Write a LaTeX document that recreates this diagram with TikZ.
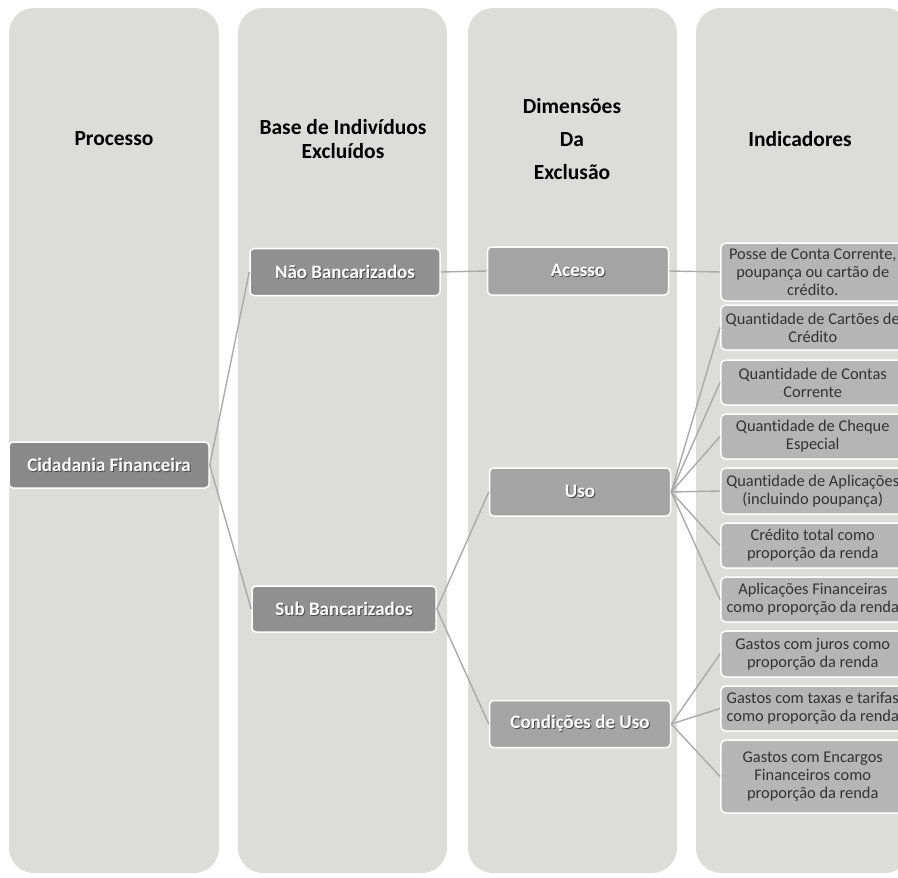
\documentclass[tikz,border=0pt]{standalone}
\usepackage{fontspec}
\setmainfont[Ligatures=NoCommon]{Carlito}
\definecolor{panelc}{HTML}{DCDDDB}
\definecolor{lvla}{HTML}{888988}
\definecolor{lvlb}{HTML}{8F908F}
\definecolor{lvlc}{HTML}{A3A4A3}
\definecolor{indc}{HTML}{B4B5B4}
\definecolor{indtext}{HTML}{333333}
\definecolor{linec}{HTML}{A9AAA9}
\definecolor{shadowc}{HTML}{4A4A4A}
\newcommand{\shd}[1]{\makebox[0pt][l]{\kern0.9pt\raisebox{-0.9pt}{\textcolor{shadowc}{#1}}}#1}
\begin{document}
\begin{tikzpicture}[x=1pt,y=-1pt,
 panel/.style={fill=panelc, draw=none, rounded corners=25pt},
 dnode/.style={draw=white, line width=1.5pt, rounded corners=4pt, text=white,
   font=\fontsize{19}{22}\selectfont\bfseries, inner sep=0pt},
 ind/.style={draw=white, line width=1.5pt, rounded corners=5pt, fill=indc,
   text=indtext, font=\fontsize{16.4}{18}\selectfont, align=center,
   minimum width=184pt, inner sep=0pt, anchor=west},
 conn/.style={draw=linec, line width=1.4pt},
 title/.style={font=\fontsize{21.5}{24}\selectfont\bfseries, align=center, text=black}
]
\useasboundingbox (0,0) rectangle (898,878);
\fill[white] (0,0) rectangle (898,878);
% panels
\fill[panel] (9,8) rectangle (219,873);
\fill[panel] (238,8) rectangle (447,873);
\fill[panel] (468,8) rectangle (677,873);
\fill[panel] (696,8) rectangle (910,873);
% titles
\node[title] (t1) at (114,139) {Processo};
\node[title] (t2) at (343,139) {Base de Indivíduos\\Excluídos};
\node[title] (t3) at (572,139) {Dimensões\\[9pt]Da\\[9pt]Exclusão};
\node[title] (t4) at (800,139) {Indicadores};
% main nodes
\node[dnode, fill=lvla, minimum width=200pt, minimum height=46pt] (cf) at (109,465) {\shd{Cidadania Financeira}};
\node[dnode, fill=lvlb, minimum width=190pt, minimum height=47pt] (nb) at (345,272) {\shd{Não Bancarizados}};
\node[dnode, fill=lvlb, minimum width=184pt, minimum height=46pt] (sb) at (344,609) {\shd{Sub Bancarizados}};
\node[dnode, fill=lvlc, minimum width=181pt, minimum height=48pt] (ac) at (578,271) {\shd{Acesso}};
\node[dnode, fill=lvlc, minimum width=181pt, minimum height=48pt] (us) at (580,492) {\shd{Uso}};
\node[dnode, fill=lvlc, minimum width=181pt, minimum height=47pt] (cu) at (580,724) {\shd{Condições de Uso}};
% indicators
\node[ind, minimum height=58pt] (i1) at (720,272) {Posse de Conta Corrente,\\poupança ou cartão de\\crédito.};
\node[ind, minimum height=45pt] (i2) at (720,327.5) {Quantidade de Cartões de\\Crédito};
\node[ind, minimum height=45pt] (i3) at (720,382.5) {Quantidade de Contas\\Corrente};
\node[ind, minimum height=45pt] (i4) at (720,436.5) {Quantidade de Cheque\\Especial};
\node[ind, minimum height=46pt] (i5) at (720,491) {Quantidade de Aplicações\\(incluindo poupança)};
\node[ind, minimum height=45pt] (i6) at (720,545.5) {Crédito total como\\proporção da renda};
\node[ind, minimum height=45pt] (i7) at (720,599.5) {Aplicações Financeiras\\como proporção da renda};
\node[ind, minimum height=46pt] (i8) at (720,654) {Gastos com juros como\\proporção da renda};
\node[ind, minimum height=45pt] (i9) at (720,708.5) {Gastos com taxas e tarifas\\como proporção da renda};
\node[ind, minimum height=73pt] (i10) at (720,776.5) {Gastos com Encargos\\Financeiros como\\proporção da renda};
% connectors
\draw[conn] (cf.east) -- (nb.west);
\draw[conn] (cf.east) -- (sb.west);
\draw[conn] (nb.east) -- (ac.west);
\draw[conn] (sb.east) -- (us.west);
\draw[conn] (sb.east) -- (cu.west);
\draw[conn] (ac.east) -- (i1.west);
\foreach \k in {2,...,7} \draw[conn] (us.east) -- (i\k.west);
\foreach \k in {8,9,10} \draw[conn] (cu.east) -- (i\k.west);
\end{tikzpicture}
\end{document}
